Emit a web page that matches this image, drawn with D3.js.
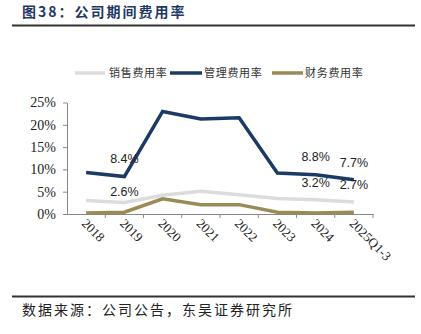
<!DOCTYPE html>
<html><head><meta charset="utf-8">
<script src="https://cdn.jsdelivr.net/npm/d3@7"></script>
<style>body{margin:0;background:#fff}svg{display:block}</style>
</head><body>
<svg id="c" width="421" height="334"></svg>
<script>
const categories = ["2018","2019","2020","2021","2022","2023","2024","2025Q1-3"];
const seriesNames = ["销售费用率","管理费用率","财务费用率"];
const sales = [3.0, 2.6, 4.2, 5.1, 4.3, 3.5, 3.2, 2.7];
const admin = [9.3, 8.4, 23.0, 21.3, 21.6, 9.2, 8.8, 7.7];
const finance = [0.2, 0.4, 3.4, 2.1, 2.1, 0.4, 0.2, 0.4];
const yTicks = [0, 5, 10, 15, 20, 25];
const labels = [
  {s:1, i:1, t:"8.4%", dy:-13.5},
  {s:0, i:1, t:"2.6%", dy:-6},
  {s:1, i:6, t:"8.8%", dy:-13.5},
  {s:1, i:7, t:"7.7%", dy:-13},
  {s:0, i:6, t:"3.2%", dy:-12.7},
  {s:0, i:7, t:"2.7%", dy:-13}
];
const colors = ["#dcdcdc","#1b3a64","#998a56"];
const data = [sales, admin, finance];

const svg = d3.select("#c");
const x = d3.scaleBand().domain(categories).range([67, 373]);
const y = d3.scaleLinear().domain([0, 25]).range([214, 102.5]);

// title
svg.append("text").attr("x", 22).attr("y", 17).attr("font-family","Noto Sans CJK SC")
  .attr("font-size", 14).attr("letter-spacing", 2).attr("font-weight","bold").attr("fill","#1f3864").text("图38：公司期间费用率");
svg.append("line").attr("x1",12).attr("x2",415).attr("y1",25.5).attr("y2",25.5).attr("stroke","#333").attr("stroke-width",2);
svg.append("line").attr("x1",12).attr("x2",415).attr("y1",296.5).attr("y2",296.5).attr("stroke","#333").attr("stroke-width",2);
svg.append("text").attr("x", 22).attr("y", 315).attr("font-family","Noto Sans CJK SC")
  .attr("font-size", 14).attr("letter-spacing", 2).attr("fill","#222").text("数据来源：公司公告，东吴证券研究所");

// legend
const leg = [{x1:75,x2:105,tx:109},{x1:170,x2:202,tx:204},{x1:272,x2:303,tx:305}];
leg.forEach((l,k)=>{
  svg.append("line").attr("x1",l.x1).attr("x2",l.x2).attr("y1",73).attr("y2",73)
    .attr("stroke",colors[k]).attr("stroke-width",3.5);
  svg.append("text").attr("x",l.tx).attr("y",77).attr("font-family","Noto Sans CJK SC")
    .attr("font-size",11).attr("letter-spacing",0.7).attr("fill","#333").text(seriesNames[k]);
});

// y axis
const ya = svg.append("g").attr("transform","translate(67,0)")
  .call(d3.axisLeft(y).tickValues(yTicks).tickFormat(d=>d+"%").tickSize(4).tickSizeOuter(0));
ya.select(".domain").attr("stroke","#888");
ya.selectAll(".tick line").attr("stroke","#888");
ya.selectAll("text").attr("font-family","Liberation Serif").attr("font-size",14).attr("fill","#222").attr("dx",-4);

// x axis
const xa = svg.append("g").attr("transform","translate(0,214)")
  .call(d3.axisBottom(x).tickSize(0).tickSizeOuter(0));
xa.select(".domain").attr("stroke","#888");
xa.selectAll(".tick text").attr("font-family","Liberation Serif").attr("font-size",13).attr("fill","#222")
  .attr("text-anchor","start").attr("transform","translate(-2,7) rotate(45)").attr("dy","0.35em").attr("y",0).attr("x",0);
const bounds = categories.map(c=>x(c)).slice(1).concat([x.range()[1]]);
xa.selectAll(".bt").data(bounds).enter().append("line").attr("class","bt")
  .attr("x1",d=>d).attr("x2",d=>d).attr("y1",0).attr("y2",4).attr("stroke","#888");

// lines
const line = d3.line().x((d,i)=>x(categories[i])+x.bandwidth()/2).y(d=>y(d));
data.forEach((s,k)=>{
  svg.append("path").datum(s).attr("d",line).attr("fill","none")
    .attr("stroke",colors[k]).attr("stroke-width",3.5).attr("stroke-linejoin","miter");
});

// labels
labels.forEach(l=>{
  svg.append("text").attr("x",x(categories[l.i])+x.bandwidth()/2)
    .attr("y",y(data[l.s][l.i])+l.dy).attr("text-anchor","middle")
    .attr("font-family","Liberation Sans").attr("font-size",12.5).attr("fill","#222").text(l.t);
});
</script>
</body></html>
